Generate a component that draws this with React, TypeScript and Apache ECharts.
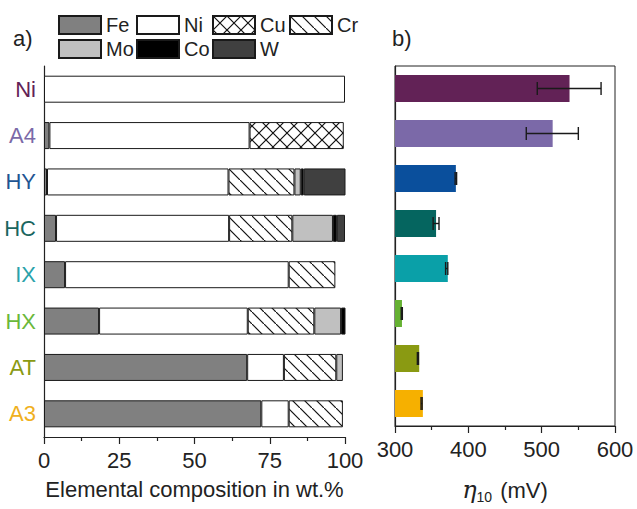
import React, { useEffect, useRef } from 'react';
import * as echarts from 'echarts';

// ---------- data ----------
const samples = ['Ni', 'A4', 'HY', 'HC', 'IX', 'HX', 'AT', 'A3'];
const sampleColors = ['#622256', '#7b69a8', '#0a4f9c', '#05655f', '#0aa0a8', '#65b132', '#8a9a12', '#f6b000'];
const labelColors = ['#622256', '#7b69a8', '#1f5592', '#1a6660', '#2aa2aa', '#6ab83a', '#8a9a12', '#f0b020'];

const elements = ['Fe', 'Ni', 'Cu', 'Cr', 'Mo', 'Co', 'W'];
const feWt = [0, 1.8, 1.0, 4.0, 7.0, 18.3, 67.5, 72.2];
const niWt = [100, 66.5, 60.3, 57.5, 74.3, 49.4, 12.2, 9.1];
const cuWt = [0, 31.3, 0, 0, 0, 0, 0, 0];
const crWt = [0, 0, 21.9, 21.0, 15.5, 22.1, 17.4, 18.0];
const moWt = [0, 0, 2.1, 13.5, 0, 8.9, 2.2, 0];
const coWt = [0, 0, 1.0, 1.3, 0, 1.5, 0, 0];
const wWt = [0, 0, 13.9, 2.7, 0, 0, 0, 0];

const overpotential = [538, 515, 383, 356, 372, 309.5, 333, 338];
const errLow = [494, 479, 382, 352, 369, 308.5, 330.5, 335.5];
const errHigh = [581, 550, 384, 360, 372, 310, 332, 337];

const compTicks = [0, 25, 50, 75, 100];
const etaTicks = [300, 400, 500, 600];

const FONT = 'Liberation Sans, Arial, sans-serif';
const FS = 22;

function hatch(size: number, cross: boolean) {
  const c = document.createElement('canvas');
  c.width = size;
  c.height = size;
  const g = c.getContext('2d')!;
  g.fillStyle = '#fff';
  g.fillRect(0, 0, size, size);
  g.strokeStyle = '#111';
  g.lineWidth = 1.2;
  g.beginPath();
  g.moveTo(-2, -2);
  g.lineTo(size + 2, size + 2);
  if (cross) {
    g.moveTo(size + 2, -2);
    g.lineTo(-2, size + 2);
  }
  g.stroke();
  return c;
}

export default function App() {
  const ref = useRef<HTMLDivElement>(null);
  useEffect(() => {
    if (!ref.current) return;
    const chart = echarts.init(ref.current, null, { renderer: 'svg' });
    const crossPat = { image: hatch(14, true), repeat: 'repeat', imageWidth: 14, imageHeight: 14 } as any;
    const diagPat = { image: hatch(12, false), repeat: 'repeat', imageWidth: 12, imageHeight: 12 } as any;

    const elemData = [feWt, niWt, cuWt, crWt, moWt, coWt, wWt];
    const elemFill: any[] = ['#808080', '#ffffff', crossPat, diagPat, '#c0c0c0', '#000000', '#404040'];

    const legendPos = [
      [58, 15], [136, 15], [212, 15], [289, 15],
      [58, 39], [136, 39], [212, 39],
    ];

    const stackSeries = elements.map((el, k) => ({
      name: el,
      type: 'bar',
      stack: 'comp',
      xAxisIndex: 0,
      yAxisIndex: 0,
      barWidth: 27,
      itemStyle: { color: elemFill[k], borderColor: '#1a1a1a', borderWidth: 1 },
      data: elemData[k].map((v) => (v > 0 ? v : null)),
    }));

    const option: any = {
      animation: false,
      textStyle: { fontFamily: FONT },
      legend: elements.map((el, k) => ({
        data: [el],
        left: legendPos[k][0],
        top: legendPos[k][1],
        padding: 0,
        itemWidth: 42,
        itemHeight: 18,
        itemGap: 6,
        icon: 'rect',
        selectedMode: false,
        textStyle: { fontSize: 20, color: '#222', fontFamily: FONT },
      })),
      graphic: [
        { type: 'text', left: 13, top: 27, style: { text: 'a)', font: FS + 'px ' + FONT, fill: '#222' } },
        { type: 'text', left: 392, top: 27, style: { text: 'b)', font: FS + 'px ' + FONT, fill: '#222' } },
      ],
      grid: [
        { left: 44, right: 292, top: 66, bottom: 72 },
        { left: 395, right: 22, top: 66, bottom: 72, show: true, borderColor: '#222', borderWidth: 1 },
      ],
      xAxis: [
        {
          type: 'value',
          gridIndex: 0,
          min: compTicks[0],
          max: compTicks[compTicks.length - 1],
          interval: compTicks[1] - compTicks[0],
          axisLine: { show: true, lineStyle: { color: '#222', width: 1.2 } },
          axisTick: { show: true, length: 7, lineStyle: { color: '#222', width: 1.2 } },
          minorTick: { show: true, splitNumber: 2, length: 4, lineStyle: { color: '#222', width: 1.2 } },
          splitLine: { show: false },
          axisLabel: { fontSize: FS, color: '#222', margin: 12, fontFamily: FONT },
          name: 'Elemental composition in wt.%',
          nameLocation: 'middle',
          nameGap: 41,
          nameTextStyle: { fontSize: FS, color: '#222', fontFamily: FONT },
        },
        {
          type: 'value',
          gridIndex: 1,
          min: etaTicks[0],
          max: etaTicks[etaTicks.length - 1],
          interval: etaTicks[1] - etaTicks[0],
          axisLine: { show: true, lineStyle: { color: '#222', width: 1.2 } },
          axisTick: { show: true, length: 7, lineStyle: { color: '#222', width: 1.2 } },
          minorTick: { show: true, splitNumber: 2, length: 4, lineStyle: { color: '#222', width: 1.2 } },
          splitLine: { show: false },
          axisLabel: { fontSize: FS, color: '#222', margin: 12, fontFamily: FONT },
          name: '{eta|η}{sub|10} (mV)',
          nameLocation: 'middle',
          nameGap: 50,
          nameTextStyle: {
            fontSize: FS,
            color: '#222',
            fontFamily: FONT,
            rich: {
              eta: { fontSize: 24, fontStyle: 'italic', fontFamily: 'DejaVu Serif, serif', color: '#222' },
              sub: { fontSize: 14, color: '#222', fontFamily: FONT, padding: [14, 2, 0, 0] },
            },
          },
        },
      ],
      yAxis: [
        {
          type: 'category',
          gridIndex: 0,
          inverse: true,
          data: samples,
          axisLine: { show: true, lineStyle: { color: '#222', width: 1.2 } },
          axisTick: { show: false },
          axisLabel: {
            fontSize: FS,
            margin: 8,
            fontFamily: FONT,
            color: (_v: any, i: number) => labelColors[i],
          },
        },
        {
          type: 'category',
          gridIndex: 1,
          inverse: true,
          data: samples,
          axisLine: { show: true, lineStyle: { color: '#222', width: 1.2 } },
          axisTick: { show: false },
          axisLabel: { show: false },
        },
      ],
      series: [
        ...stackSeries,
        {
          name: 'eta',
          type: 'bar',
          xAxisIndex: 1,
          yAxisIndex: 1,
          barWidth: 27,
          data: overpotential.map((v, i) => ({ value: v, itemStyle: { color: sampleColors[i] } })),
        },
        {
          name: 'err',
          type: 'custom',
          xAxisIndex: 1,
          yAxisIndex: 1,
          encode: { x: [1, 2], y: 0 },
          data: samples.map((_s, i) => [i, errLow[i], errHigh[i]]),
          renderItem: (_p: any, api: any) => {
            const i = api.value(0);
            const lo = api.coord([api.value(1), i]);
            const hi = api.coord([api.value(2), i]);
            const h = 6.5;
            const st = { stroke: '#1a1a1a', lineWidth: 1.4 };
            return {
              type: 'group',
              children: [
                { type: 'line', shape: { x1: lo[0], y1: lo[1], x2: hi[0], y2: hi[1] }, style: st },
                { type: 'line', shape: { x1: lo[0], y1: lo[1] - h, x2: lo[0], y2: lo[1] + h }, style: st },
                { type: 'line', shape: { x1: hi[0], y1: hi[1] - h, x2: hi[0], y2: hi[1] + h }, style: st },
              ],
            };
          },
          z: 5,
        },
      ],
    };
    chart.setOption(option);
    return () => chart.dispose();
  }, []);
  return (
    <div
      ref={ref}
      style={{ position: 'fixed', left: 0, top: 0, width: 637, height: 509, background: '#fff' }}
    />
  );
}
